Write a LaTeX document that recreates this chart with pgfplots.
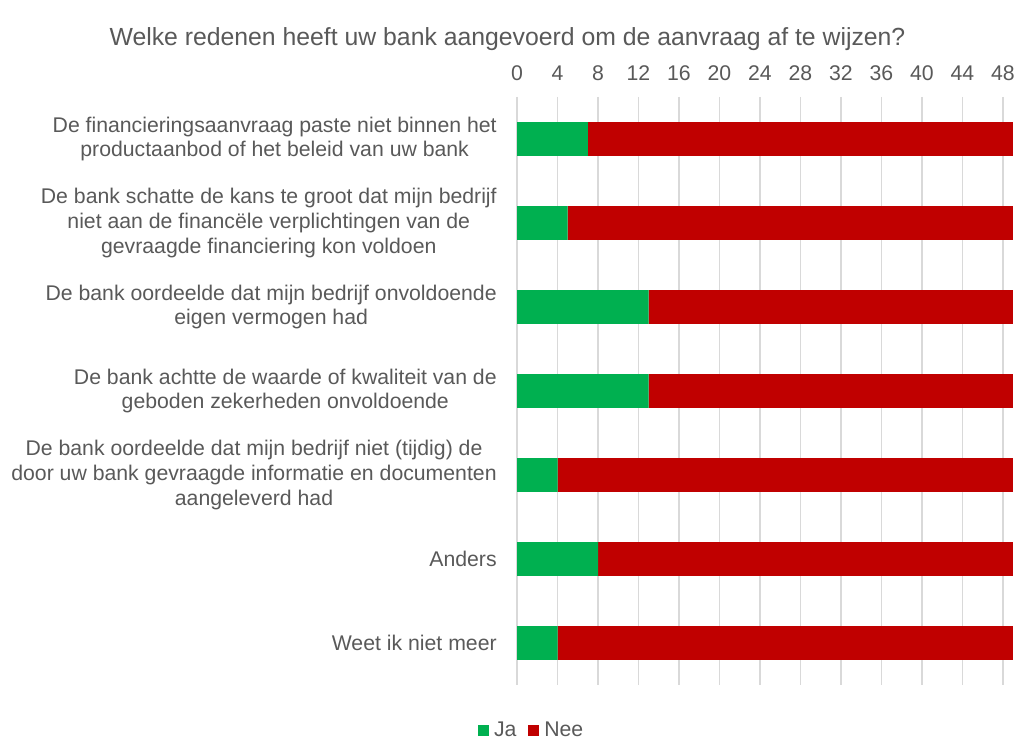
\documentclass[border=0pt]{standalone}
\usepackage{fontspec}
\setmainfont{Liberation Sans}
\usepackage{pgfplots}
\pgfplotsset{compat=1.18}
\definecolor{ja}{HTML}{00B050}
\definecolor{nee}{HTML}{C00000}
\definecolor{txt}{HTML}{595959}
\definecolor{grd}{HTML}{D9D9D9}
\begin{document}
\begin{tikzpicture}
\begin{axis}[name=ax, scale only axis, width=280.2pt, height=332.2pt,
  xbar stacked, bar width=0.4,
  xmin=0, xmax=49, ymin=-0.5, ymax=6.5, y dir=reverse,
  xtick={0,4,...,48}, xticklabel pos=upper,
  ytick={0,...,6},
  yticklabels={{De financieringsaanvraag paste niet binnen het\\productaanbod of het beleid van uw bank},
    {De bank schatte de kans te groot dat mijn bedrijf\\niet aan de financële verplichtingen van de\\gevraagde financiering kon voldoen},
    {De bank oordeelde dat mijn bedrijf onvoldoende\\eigen vermogen had},
    {De bank achtte de waarde of kwaliteit van de\\geboden zekerheden onvoldoende},
    {De bank oordeelde dat mijn bedrijf niet (tijdig) de\\door uw bank gevraagde informatie en documenten\\aangeleverd had},
    {Anders},
    {Weet ik niet meer}},
  xmajorgrids, grid style={grd, line width=0.8pt},
  axis line style={draw=none}, major tick length=0pt,
  tick label style={font=\fontsize{12}{13.85}\selectfont, text=txt},
  /pgf/number format/assume math mode=true,
  xticklabel style={inner sep=0pt, anchor=base, yshift=9.6pt},
  yticklabel style={align=center, anchor=east, inner sep=0pt, xshift=-11.3pt},
  legend columns=2,
  legend style={at={(0.030,-0.077)}, anchor=center, draw=none, fill=none,
    font=\fontsize{12}{14}\selectfont, text=txt,
    /tikz/every even column/.append style={column sep=5pt},
    nodes={inner sep=1.5pt}},
]
\addplot[fill=ja, draw=none, legend image code/.code={\fill[ja] (0pt,-3.1pt) rectangle (6.2pt,3.1pt);}]
  coordinates {(7,0) (5,1) (13,2) (13,3) (4,4) (8,5) (4,6)};
\addplot[fill=nee, draw=none, legend image code/.code={\fill[nee] (0pt,-3.1pt) rectangle (6.2pt,3.1pt);}]
  coordinates {(42,0) (44,1) (36,2) (36,3) (45,4) (41,5) (45,6)};
\legend{\hspace{1.5pt}Ja, \hspace{1.5pt}Nee}
\end{axis}
\node[font=\fontsize{14}{16}\selectfont, text=txt, anchor=base, inner sep=0pt]
  at ([xshift=-5.4pt, yshift=29pt]ax.north west) {Welke redenen heeft uw bank aangevoerd om de aanvraag af te wijzen?};
\pgfresetboundingbox
\path[use as bounding box] ([xshift=-292.1pt,yshift=-31.1pt]ax.south west) rectangle ([xshift=2.26pt,yshift=54.8pt]ax.north east);
\end{tikzpicture}
\end{document}
